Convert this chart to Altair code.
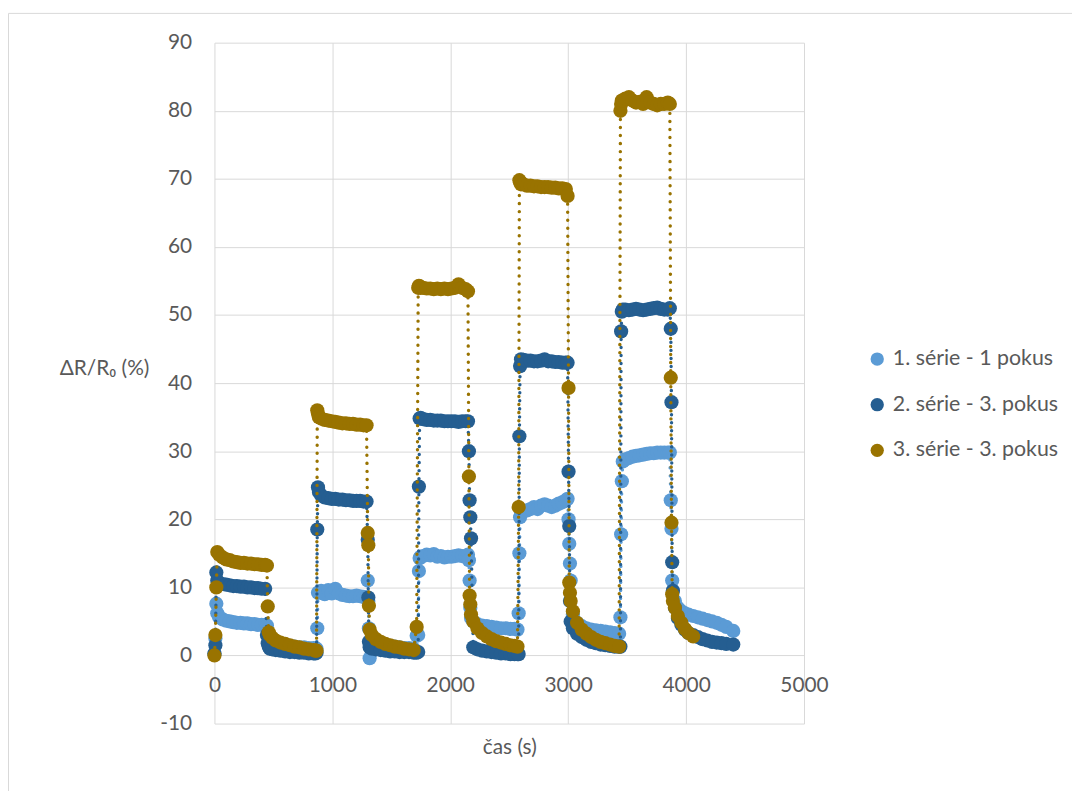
import altair as alt
import pandas as pd

# sample times (s), one line per segment (rise / plateau / fall / gap)
time_s = [
    0, 8, 16, 24,
    40, 70, 100, 130, 160, 190, 220, 250, 280, 310, 340, 370, 400, 430,
    445, 452, 460, 470,
    490, 520, 560, 600, 640, 680, 720, 760, 800, 840, 856,
    866, 872, 878, 886,
    905, 935, 965, 995, 1025, 1055, 1085, 1115, 1145, 1175, 1205, 1235, 1265, 1290,
    1300, 1305, 1310, 1316,
    1335, 1370, 1410, 1450, 1490, 1530, 1570, 1610, 1650, 1690, 1715,
    1728, 1734, 1740, 1748,
    1770, 1800, 1830, 1860, 1890, 1920, 1950, 1980, 2010, 2040, 2070, 2100, 2130, 2150,
    2158, 2164, 2170, 2176,
    2195, 2230, 2270, 2310, 2350, 2390, 2430, 2470, 2510, 2545, 2570,
    2580, 2586, 2592, 2600,
    2620, 2650, 2680, 2710, 2740, 2770, 2800, 2830, 2860, 2890, 2920, 2950, 2980, 2995,
    3003, 3009, 3015, 3021,
    3040, 3075, 3115, 3155, 3195, 3235, 3275, 3315, 3355, 3395, 3432,
    3443, 3449, 3455, 3463,
    3485, 3515, 3545, 3575, 3605, 3635, 3665, 3695, 3725, 3755, 3785, 3815, 3845, 3862,
    3870, 3876, 3882, 3888,
    3905, 3930, 3960, 3990, 4020, 4060, 4100, 4140, 4180, 4220, 4260, 4300, 4340, 4400,
]

serie1 = [
    0.2, 2.5, 7.6, 6.2,
    5.6, 5.3, 5.1, 5.0, 4.9, 4.8, 4.8, 4.7, 4.7, 4.6, 4.6, 4.5, 4.5, 4.5,
    4.4, 3.3, 2.5, 2.0,
    1.9, 1.7, 1.6, 1.5, 1.4, 1.3, 1.2, 1.2, 1.1, 1.1, 1.0,
    1.0, 4.0, 9.2, 9.3,
    9.5, 9.0, 9.6, 9.1, 9.8, 9.1, 8.9, 8.8, 8.7, 8.7, 8.8, 8.7, 8.6, 8.5,
    11.0, 8.0, 4.0, -0.4,
    2.0, 1.8, 1.6, 1.5, 1.4, 1.3, 1.2, 1.1, 1.1, 1.0, 2.9,
    3.0, 12.4, 14.3, 14.5,
    14.6, 14.8, 14.7, 14.9, 14.5, 14.6, 14.4, 14.5, 14.5, 14.6, 14.7, 14.6, 14.6, 14.8,
    14.0, 11.0, 7.0, 5.5,
    5.0, 4.6, 4.4, 4.3, 4.2, 4.1, 4.0, 4.0, 3.9, 3.9, 3.8,
    6.2, 15.0, 20.3, 21.0,
    21.2, 21.3, 21.5, 21.8, 21.5, 22.0, 22.2, 22.0, 21.8, 22.0, 22.3, 22.5, 22.8, 23.0,
    20.0, 16.4, 13.5, 11.0,
    6.0, 4.8, 4.3, 4.0, 3.8, 3.7, 3.6, 3.5, 3.4, 3.3, 3.2,
    5.6, 17.8, 25.6, 28.5,
    28.8, 29.0, 29.2, 29.3, 29.4, 29.5, 29.6, 29.7, 29.7, 29.8, 29.8, 29.8, 29.8, 29.8,
    22.8, 18.6, 11.0, 9.5,
    8.0, 7.0, 6.5, 6.2, 6.0, 5.8, 5.6, 5.4, 5.2, 5.0, 4.8, 4.5, 4.2, 3.6,
]

serie2 = [
    0.3, 1.5, 12.2, 11.0,
    10.6, 10.5, 10.4, 10.3, 10.2, 10.2, 10.1, 10.1, 10.0, 10.0, 9.9, 9.9, 9.8, 9.8,
    3.0, 1.8, 1.3, 1.0,
    0.9, 0.8, 0.7, 0.6, 0.5, 0.5, 0.4, 0.4, 0.3, 0.3, 0.3,
    0.4, 18.5, 24.7, 24.0,
    23.5, 23.2, 23.1, 23.0, 23.0, 22.9, 22.9, 22.8, 22.8, 22.7, 22.7, 22.7, 22.6, 22.6,
    17.0, 8.5, 2.0, 1.2,
    1.0, 0.9, 0.8, 0.7, 0.6, 0.6, 0.5, 0.5, 0.5, 0.4, 0.4,
    0.5, 24.8, 34.8, 34.9,
    34.7, 34.6, 34.6, 34.5, 34.5, 34.5, 34.4, 34.4, 34.4, 34.4, 34.3, 34.4, 34.4, 34.4,
    30.0, 22.8, 20.3, 17.2,
    1.2, 0.9, 0.7, 0.6, 0.5, 0.4, 0.3, 0.3, 0.2, 0.2, 0.2,
    0.2, 32.2, 42.5, 43.5,
    43.4, 43.3, 43.3, 43.2, 43.2, 43.3, 43.5, 43.2, 43.2, 43.1, 43.1, 43.0, 43.0, 43.0,
    27.0, 19.0, 8.0, 5.0,
    4.0, 3.2, 2.7, 2.3, 2.0, 1.8, 1.6, 1.5, 1.4, 1.3, 1.3,
    1.3, 47.6, 50.5, 50.8,
    50.8, 50.7, 50.8, 50.9, 50.8, 50.7, 50.8, 50.9, 51.0, 51.1, 50.9, 50.8, 50.8, 51.0,
    48.0, 37.2, 13.7, 9.5,
    7.0, 5.5, 4.5, 3.8, 3.3, 3.0, 2.7, 2.4, 2.2, 2.0, 1.9, 1.8, 1.7, 1.6,
]

serie3 = [
    0.0, 3.0, 10.0, 15.2,
    14.8, 14.4, 14.1, 14.0, 13.8, 13.7, 13.6, 13.6, 13.5, 13.5, 13.4, 13.4, 13.3, 13.3,
    13.2, 7.2, 3.4, 3.0,
    2.6, 2.2, 1.9, 1.7, 1.5, 1.3, 1.2, 1.0, 0.9, 0.8, 0.7,
    0.7, 36.0, 35.5, 35.0,
    34.8, 34.6, 34.5, 34.4, 34.3, 34.2, 34.1, 34.1, 34.0, 34.0, 33.9, 33.9, 33.8, 33.8,
    18.0, 16.2, 7.3, 3.8,
    3.0, 2.4, 2.0, 1.7, 1.5, 1.3, 1.2, 1.0, 0.9, 0.8, 4.2,
    54.0, 54.3, 54.2, 54.0,
    54.0, 53.9, 53.9, 53.8, 53.9, 53.8, 53.9, 53.8, 53.9, 54.0, 54.5, 54.0, 53.8, 53.5,
    26.3, 8.8, 7.5, 6.0,
    5.0, 4.0, 3.3, 2.8, 2.4, 2.1, 1.9, 1.7, 1.5, 1.4, 1.3,
    21.8, 69.8, 69.5, 69.2,
    69.2, 69.0, 69.0, 68.9, 68.9, 68.8, 68.8, 68.8, 68.7, 68.7, 68.6, 68.6, 68.5, 67.5,
    39.3, 10.7, 9.2, 8.0,
    6.5, 4.8, 3.8, 3.2, 2.7, 2.3, 2.0, 1.8, 1.6, 1.4, 1.3,
    80.0, 81.0, 81.5, 81.5,
    81.8, 82.0, 81.5, 81.2, 81.3, 81.0, 82.0, 81.2, 81.0, 80.8, 81.0, 81.0, 81.2, 81.0,
    40.8, 19.5, 9.0, 8.0,
    7.0, 5.8, 4.8, 3.9, 3.3, 2.8, None, None, None, None, None, None, None, None,
]

names = ["1. série - 1 pokus", "2. série - 3. pokus", "3. série - 3. pokus"]
colors = ["#5B9BD5", "#255E91", "#997300"]
x_ticks = [0, 1000, 2000, 3000, 4000, 5000]
y_ticks = [-10, 0, 10, 20, 30, 40, 50, 60, 70, 80, 90]

rows = []
for name, vals in zip(names, [serie1, serie2, serie3]):
    for i, (t, v) in enumerate(zip(time_s, vals)):
        if v is not None:
            rows.append({"t": t, "v": v, "s": name, "i": i})
df = pd.DataFrame(rows)

FONT = "Lato"
TXT = "#595959"
GRID = "#D9D9D9"
FS = 21

xenc = alt.X(
    "t:Q",
    scale=alt.Scale(domain=[0, 5000], nice=False, zero=False),
    axis=alt.Axis(
        values=x_ticks, title="čas (s)", offset=-68.6, grid=True, gridColor=GRID,
        domain=False, ticks=False, labelPadding=19, labelFontSize=FS, labelFont=FONT,
        labelColor=TXT, titleFontSize=FS, titleFont=FONT, titleColor=TXT,
        titleFontWeight="normal", titleY=92.6, titleBaseline="middle",
        labelFlush=False, labelOverlap=False, labelExpr="datum.value + ''",
    ),
)
yenc = alt.Y(
    "v:Q",
    scale=alt.Scale(domain=[-10, 90], nice=False, zero=False),
    axis=alt.Axis(
        values=y_ticks, title="ΔR/R₀ (%)", titleAngle=0, titleAlign="right",
        titleBaseline="middle", titleX=-66, titleY=328, grid=True, gridColor=GRID,
        domain=False, ticks=False, labelPadding=23, labelFontSize=FS, labelFont=FONT,
        labelColor=TXT, titleFontSize=FS, titleFont=FONT, titleColor=TXT,
        titleFontWeight="normal", labelFlush=False, labelOverlap=False,
        labelExpr="datum.value + ''",
    ),
)

legend = alt.Legend(
    orient="none", legendX=657, legendY=308, title=None, symbolType="circle",
    symbolSize=180, symbolStrokeWidth=0, labelFontSize=21.5, labelFont=FONT,
    labelColor=TXT, rowPadding=23, labelOffset=5, padding=0, labelLimit=400,
)

base = alt.Chart(df)
layers = []
for name, col in zip(names, colors):
    sub = base.transform_filter(alt.datum.s == name)
    layers.append(
        sub.mark_line(strokeDash=[0.1, 8], strokeCap="round", strokeWidth=3.4, color=col)
        .encode(x=xenc, y=yenc, order="i:Q")
    )
    layers.append(
        sub.mark_circle(size=205, opacity=1)
        .encode(
            x=xenc, y=yenc,
            color=alt.Color("s:N", scale=alt.Scale(domain=names, range=colors), legend=legend),
        )
    )

one = alt.Chart(pd.DataFrame({"a": [0]}))
border_top = one.mark_rule(color=GRID, strokeWidth=1).encode(
    x=alt.value(-207.5), x2=alt.value(864), y=alt.value(-29.5)
)
border_left = one.mark_rule(color=GRID, strokeWidth=1).encode(
    x=alt.value(-207.5), y=alt.value(-29.5), y2=alt.value(760)
)

chart = alt.layer(border_top, border_left, *layers).properties(
    width=594, height=686,
    autosize=alt.AutoSizeParams(type="none"),
    padding={"left": 208, "top": 32, "right": 270, "bottom": 65},
).configure_view(stroke=None)

chart.save("out.html", embed_options={"renderer": "svg", "actions": False})
